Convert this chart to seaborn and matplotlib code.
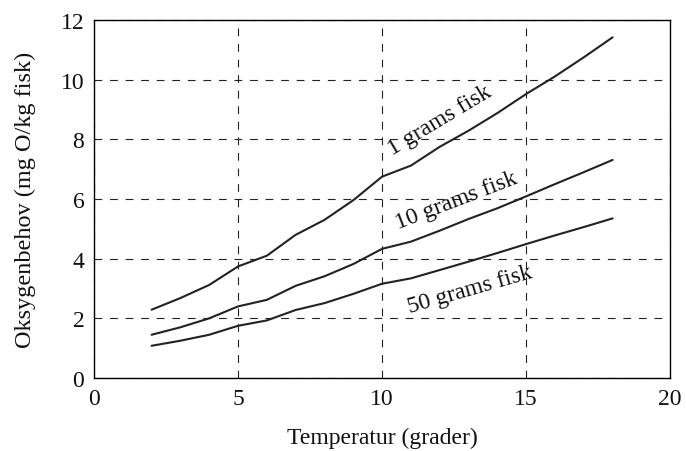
import pandas as pd
import matplotlib.pyplot as plt
import numpy as np
import seaborn as sns

temp = [2, 3, 4, 5, 6, 7, 8, 9, 10, 11, 12, 13, 14, 15, 16, 17, 18]
fisk_1 = [2.29, 2.68, 3.12, 3.74, 4.10, 4.80, 5.30, 5.96, 6.75, 7.12, 7.75, 8.29, 8.88, 9.52, 10.11, 10.75, 11.42]
fisk_10 = [1.45, 1.70, 2.00, 2.40, 2.62, 3.09, 3.41, 3.82, 4.33, 4.57, 4.94, 5.33, 5.69, 6.09, 6.50, 6.90, 7.31]
fisk_50 = [1.08, 1.25, 1.45, 1.75, 1.93, 2.28, 2.51, 2.82, 3.16, 3.34, 3.62, 3.90, 4.19, 4.49, 4.78, 5.06, 5.35]
names = ['1 grams fisk', '10 grams fisk', '50 grams fisk']

df = pd.DataFrame({'Temperatur': temp * 3,
                   'Oksygen': fisk_1 + fisk_10 + fisk_50,
                   'Fisk': np.repeat(names, len(temp))})

sns.set_style("white")
plt.rcParams['font.family'] = ['Liberation Serif', 'DejaVu Serif']

fig = plt.figure(figsize=(6.86, 4.52), dpi=100)
ax = fig.add_axes([0.137, 0.1615, 0.840, 0.792])

sns.lineplot(data=df, x='Temperatur', y='Oksygen', hue='Fisk',
             palette=['#222222'] * 3, linewidth=1.5, legend=False, ax=ax)

ax.set_xlim(0, 20)
ax.set_ylim(0, 12)
ax.set_xticks([0, 5, 10, 15, 20])
ax.set_yticks([0, 2, 4, 6, 8, 10, 12])
ax.grid(True, color='#222222', linestyle=(0, (7, 7)), linewidth=0.8)
ax.tick_params(length=0, labelsize=17, pad=7, labelcolor='#111111')
for s in ax.spines.values():
    s.set_color('black')
    s.set_linewidth(1.0)

ax.set_xlabel('Temperatur (grader)', fontsize=17, labelpad=13, color='#111111')
ax.set_ylabel('Oksygenbehov (mg O/kg fisk)', fontsize=17.5, labelpad=18, color='#111111')

# labels along the curves
ax.text(12.0, 8.65, names[0], rotation=31, fontsize=17, ha='center', va='center', color='#111111')
ax.text(12.57, 5.95, names[1], rotation=21, fontsize=17, ha='center', va='center', color='#111111')
ax.text(13.06, 2.98, names[2], rotation=16, fontsize=17, ha='center', va='center', color='#111111')

plt.savefig("out.png", dpi=100)
